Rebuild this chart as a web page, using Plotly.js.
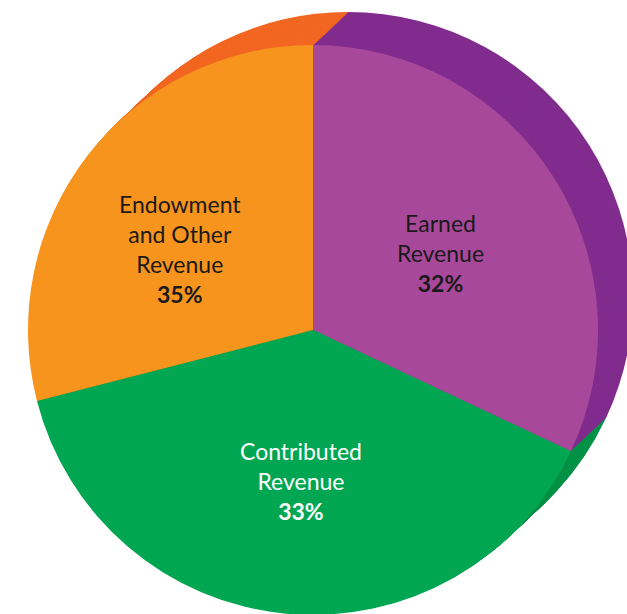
<!DOCTYPE html>
<html>
<head>
<meta charset="utf-8">
<script src="https://cdn.plot.ly/plotly-3.0.1.min.js"></script>
<style>
html, body { margin: 0; padding: 0; overflow: hidden; background: #fff; }
#chart { width: 700px; height: 700px; }
</style>
</head>
<body>
<div id="chart"></div>
<script>
// Categories, in clockwise order starting at 12 o'clock
var categories = ['Earned Revenue', 'Contributed Revenue', 'Endowment and Other Revenue'];
// Label text as printed (line-broken)
var labelText = ['Earned<br>Revenue', 'Contributed<br>Revenue', 'Endowment<br>and Other<br>Revenue'];
// Percentages printed on the chart
var printedPercent = [32, 33, 35];
// Slice sizes as drawn in the picture (angles measured)
var sliceShares = [32, 39, 29];
// Colours
var frontColors = ['#A8489A', '#00A651', '#F7941E'];
var sideColors = ['#812C8E', '#009247', '#F26722'];
var textColors = ['#1a1a1a', '#ffffff', '#1a1a1a'];

var W = 700, H = 700;
// front disc in page pixels
var L = 28, T = 45, D = 570;
// extrusion offset (pixels) of the back face
var offX = 35, offY = -33, steps = 36;

function pieTrace(colors, sx, sy) {
  return {
    type: 'pie', labels: categories, values: sliceShares, sort: false,
    direction: 'clockwise', rotation: 0, textinfo: 'none', hoverinfo: 'skip',
    marker: { colors: colors, line: { width: 0 } },
    domain: {
      x: [(L + sx) / W, (L + sx + D) / W],
      y: [(H - (T + sy + D)) / H, (H - (T + sy)) / H]
    },
    showlegend: false
  };
}

var traces = [];
for (var k = steps; k >= 1; k--) {
  traces.push(pieTrace(sideColors, offX * k / steps, offY * k / steps));
}
traces.push(pieTrace(frontColors, 0, 0));

var labelPos = [[440, 253], [301, 481], [180, 249]];
var annotations = categories.map(function (c, i) {
  return {
    xref: 'paper', yref: 'paper',
    x: labelPos[i][0] / W, y: 1 - labelPos[i][1] / H,
    xanchor: 'center', yanchor: 'middle', showarrow: false, align: 'center',
    text: labelText[i] + '<br><b>' + printedPercent[i] + '%</b>',
    font: { family: 'Lato, "Open Sans", sans-serif', size: 23, color: textColors[i] }
  };
});

var layout = {
  width: W, height: H, margin: { l: 0, r: 0, t: 0, b: 0 },
  paper_bgcolor: '#ffffff', showlegend: false, annotations: annotations
};
Plotly.newPlot('chart', traces, layout, { displayModeBar: false, staticPlot: true });
</script>
</body>
</html>
